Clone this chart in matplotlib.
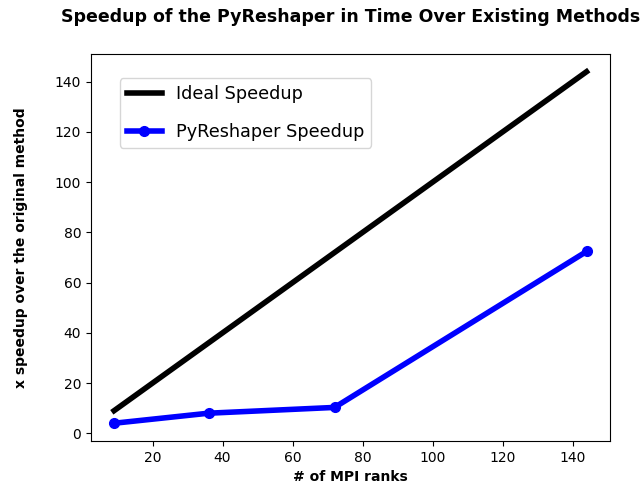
import matplotlib
matplotlib.use("Agg")
import matplotlib.pyplot as plt

ranks = [9, 36, 72, 144]
ideal = [9, 36, 72, 144]
pyreshaper = [4.0, 8.0, 10.3, 72.4]

fig = plt.figure(figsize=(6.42, 4.86), dpi=100)
ax = fig.add_axes([0.1417, 0.0926, 0.8084, 0.796])

ax.plot(ranks, ideal, color="black", linewidth=4, label="Ideal Speedup")
ax.plot(ranks, pyreshaper, color="blue", linewidth=4, marker="o", markersize=7,
        label="PyReshaper Speedup")

ax.set_xlim(2.4, 150.7)
ax.set_ylim(-3.07, 151)
ax.set_xticks([20, 40, 60, 80, 100, 120, 140])
ax.set_yticks([0, 20, 40, 60, 80, 100, 120, 140])

ax.set_title("Speedup of the PyReshaper in Time Over Existing Methods",
             fontsize=12.5, fontweight="bold", pad=23)
ax.set_xlabel("# of MPI ranks", fontweight="bold")
ax.set_ylabel("x speedup over the original method", fontweight="bold", labelpad=19)

ax.legend(loc="upper left", bbox_to_anchor=(0.038, 0.96), fontsize=12.7,
          labelspacing=1.1)

fig.savefig("out.png", dpi=100)
